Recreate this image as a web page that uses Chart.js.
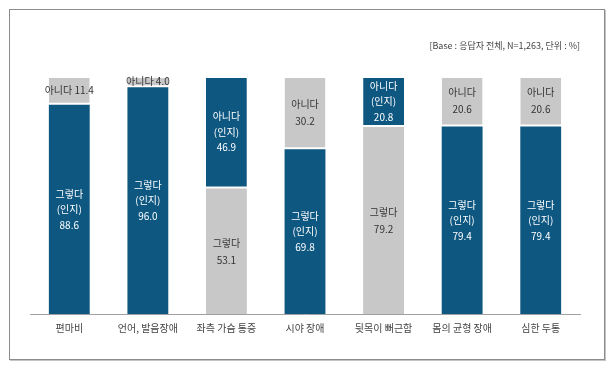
<!DOCTYPE html>
<html>
<head>
<meta charset="utf-8">
<script src="https://cdn.jsdelivr.net/npm/chart.js@4"></script>
<style>
  body { margin: 0; background: #fff; }
  #wrap { position: relative; width: 616px; height: 368px; }
  #frame { position: absolute; left: 9px; top: 9px; width: 594px; height: 349px; border: 1px solid #8c8c8c; box-shadow: 1px 1px 0 #c4c4c4; }
  #chart { position: absolute; left: 0; top: 0; }
</style>
</head>
<body>
<div id="wrap">
  <div id="frame"></div>
  <canvas id="chart" width="616" height="368"></canvas>
</div>
<script>
const categories = ['편마비', '언어, 발음장애', '좌측 가슴 통증', '시야 장애', '뒷목이 뻐근함', '몸의 균형 장애', '심한 두통']
const yesValues = [88.6, 96.0, 53.1, 69.8, 79.2, 79.4, 79.4]
const noValues = [11.4, 4.0, 46.9, 30.2, 20.8, 20.6, 20.6]
// 정답(인지) 쪽
const correctAnswer = ['그렇다', '그렇다', '아니다', '그렇다', '아니다', '그렇다', '그렇다']
const note = '[Base : 응답자 전체, N=1,263, 단위 : %]'

const darkBlue = 'rgb(14, 87, 128)'
const lightGray = 'rgb(200, 200, 200)'
const fontFamily = '"Noto Sans CJK KR", "Noto Sans", sans-serif'

const segColors = answer => correctAnswer.map(c => c === answer ? darkBlue : lightGray)

const labelPlugin = {
  id: 'segLabels',
  afterDatasetsDraw(chart) {
    const ctx = chart.ctx
    ctx.save()
    ctx.font = '10px ' + fontFamily
    ctx.textAlign = 'center'
    ctx.textBaseline = 'middle'
    chart.data.datasets.forEach((ds, di) => {
      const meta = chart.getDatasetMeta(di)
      meta.data.forEach((bar, i) => {
        const known = correctAnswer[i] === ds.label
        const val = ds.data[i].toFixed(1)
        const h = Math.abs(bar.base - bar.y)
        let lines
        if (h < 30) lines = [ds.label + ' ' + val]
        else if (known) lines = [ds.label, '(인지)', val]
        else lines = [ds.label, val]
        const lh = known ? 15.5 : 17
        const cy = (bar.y + bar.base) / 2 + (di === 1 ? -1 : 0)
        ctx.fillStyle = known ? '#ffffff' : '#333333'
        lines.forEach((t, k) => {
          ctx.fillText(t, bar.x, cy + (k - (lines.length - 1) / 2) * lh)
        })
      })
    })
    ctx.restore()
  }
}

new Chart(document.getElementById('chart'), {
  type: 'bar',
  data: {
    labels: categories,
    datasets: [
      {
        label: '그렇다',
        data: yesValues,
        backgroundColor: segColors('그렇다'),
        borderWidth: 0,
        categoryPercentage: 1,
        barPercentage: 0.52
      },
      {
        label: '아니다',
        data: noValues,
        backgroundColor: segColors('아니다'),
        borderColor: '#ffffff',
        borderWidth: { top: 0, left: 0, right: 0, bottom: 2 },
        borderSkipped: false,
        categoryPercentage: 1,
        barPercentage: 0.52
      }
    ]
  },
  options: {
    responsive: false,
    animation: false,
    layout: { padding: { left: 30, right: 36, top: 40, bottom: 26 } },
    plugins: {
      legend: { display: false },
      tooltip: { enabled: false },
      title: {
        display: true,
        text: note,
        align: 'end',
        color: '#444',
        font: { family: fontFamily, size: 9, weight: 'normal' },
        padding: { top: 0, bottom: 27 }
      }
    },
    scales: {
      x: {
        stacked: true,
        grid: { display: false, drawTicks: false },
        border: { display: true, color: '#a0a0a0', width: 1 },
        ticks: { color: '#444', padding: 8, font: { family: fontFamily, size: 10 } }
      },
      y: {
        stacked: true,
        display: false,
        min: 0,
        max: 100
      }
    }
  },
  plugins: [labelPlugin]
})
</script>
</body>
</html>
